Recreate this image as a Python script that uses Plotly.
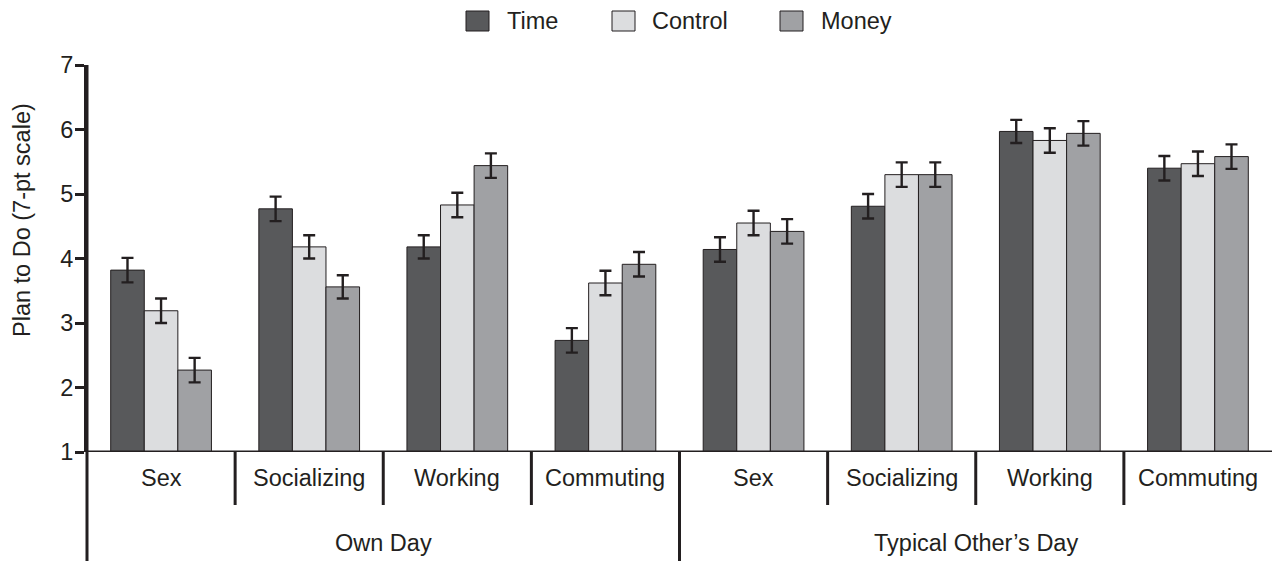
import plotly.graph_objects as go

# ---- data ----
activities = ["Sex", "Socializing", "Working", "Commuting",
              "Sex", "Socializing", "Working", "Commuting"]
groups = ["Own Day", "Typical Other\u2019s Day"]
series_names = ["Time", "Control", "Money"]
time_vals = [3.82, 4.77, 4.18, 2.73, 4.14, 4.81, 5.97, 5.40]
control_vals = [3.19, 4.18, 4.83, 3.62, 4.55, 5.30, 5.83, 5.47]
money_vals = [2.27, 3.56, 5.44, 3.91, 4.42, 5.30, 5.94, 5.58]
time_err = [0.19, 0.19, 0.18, 0.19, 0.19, 0.19, 0.18, 0.19]
control_err = [0.19, 0.18, 0.19, 0.19, 0.19, 0.19, 0.19, 0.19]
money_err = [0.19, 0.18, 0.19, 0.19, 0.19, 0.19, 0.19, 0.19]
y_ticks = [1, 2, 3, 4, 5, 6, 7]
y_title = "Plan to Do (7-pt scale)"

colors = ["#58595b", "#dcdddf", "#a0a1a4"]
ink = "#231f20"
FONT = "Liberation Sans, Arial, sans-serif"
FS = 23.5

W, H = 1272, 561
L, R, T, B = 87, 0, 65, 109
PW, PH = W - L - R, H - T - B

def px_x(p):
    return (p - L) / PW

def px_y(p):
    return (H - B - p) / PH

xs = list(range(len(activities)))
fig = go.Figure()
for name, vals, errs, col in zip(series_names, [time_vals, control_vals, money_vals],
                                  [time_err, control_err, money_err], colors):
    fig.add_trace(go.Bar(
        x=xs, y=[v - 1 for v in vals], base=1, name=name,
        marker=dict(color=col, line=dict(color=ink, width=1)),
        error_y=dict(type="data", array=errs, color=ink, thickness=2.4, width=6),
        showlegend=False,
    ))

shapes = []
annotations = []
# category separators
for i in range(1, len(activities)):
    if i == 4:
        continue
    shapes.append(dict(type="line", xref="x", yref="paper", x0=i - 0.5, x1=i - 0.5,
                       y0=0, y1=px_y(505), line=dict(color=ink, width=3)))
# group separator and left axis extension
shapes.append(dict(type="line", xref="x", yref="paper", x0=3.5, x1=3.5,
                   y0=0, y1=px_y(575), line=dict(color=ink, width=3)))
shapes.append(dict(type="line", xref="paper", yref="paper", x0=0, x1=0,
                   y0=1, y1=px_y(575), line=dict(color=ink, width=3)))
# bottom axis line
shapes.append(dict(type="line", xref="paper", yref="y", x0=0, x1=1.01,
                   y0=1, y1=1, line=dict(color=ink, width=3)))

for i, a in enumerate(activities):
    annotations.append(dict(x=i, y=px_y(478), xref="x", yref="paper", text=a,
                            showarrow=False, font=dict(family=FONT, size=FS, color=ink),
                            xanchor="center", yanchor="middle"))
for g, cx in zip(groups, [1.5, 5.5]):
    annotations.append(dict(x=cx, y=px_y(543), xref="x", yref="paper", text=g,
                            showarrow=False, font=dict(family=FONT, size=FS, color=ink),
                            xanchor="center", yanchor="middle"))

# y-axis title
annotations.append(dict(x=px_x(22), y=px_y(220), xref="paper", yref="paper", text=y_title,
                        textangle=-90, showarrow=False,
                        font=dict(family=FONT, size=FS, color=ink),
                        xanchor="center", yanchor="middle"))

# legend (custom)
leg_sq = [466, 612, 780]
leg_tx = [505, 650, 819]
for name, col, sx, tx in zip(series_names, colors, leg_sq, leg_tx):
    shapes.append(dict(type="rect", xref="paper", yref="paper",
                       x0=px_x(sx), x1=px_x(sx + 23), y0=px_y(11), y1=px_y(31),
                       fillcolor=col, line=dict(color=ink, width=1)))
    annotations.append(dict(x=px_x(tx), y=px_y(21), xref="paper", yref="paper", text=name,
                            showarrow=False, font=dict(family=FONT, size=FS, color=ink),
                            xanchor="left", yanchor="middle"))

fig.update_layout(
    width=W, height=H,
    margin=dict(l=L, r=R, t=T, b=B),
    paper_bgcolor="white", plot_bgcolor="white",
    barmode="group", bargap=0.32, bargroupgap=0,
    shapes=shapes, annotations=annotations,
    font=dict(family=FONT, size=FS, color=ink),
    hovermode=False,
    xaxis=dict(range=[-0.5, 7.5], showticklabels=False, showgrid=False, zeroline=False,
               showline=False, ticks=""),
    yaxis=dict(range=[1, 7], tickvals=y_ticks, showgrid=False, zeroline=False,
               showline=True, linecolor=ink, linewidth=3, ticks="outside", ticklen=9,
               tickwidth=3, tickcolor=ink, ticklabelstandoff=-3,
               tickfont=dict(family=FONT, size=FS, color=ink)),
)

fig.write_html("out.html", config={"displayModeBar": False},
               post_script="document.body.style.margin='0px';document.body.style.overflow='hidden';")
